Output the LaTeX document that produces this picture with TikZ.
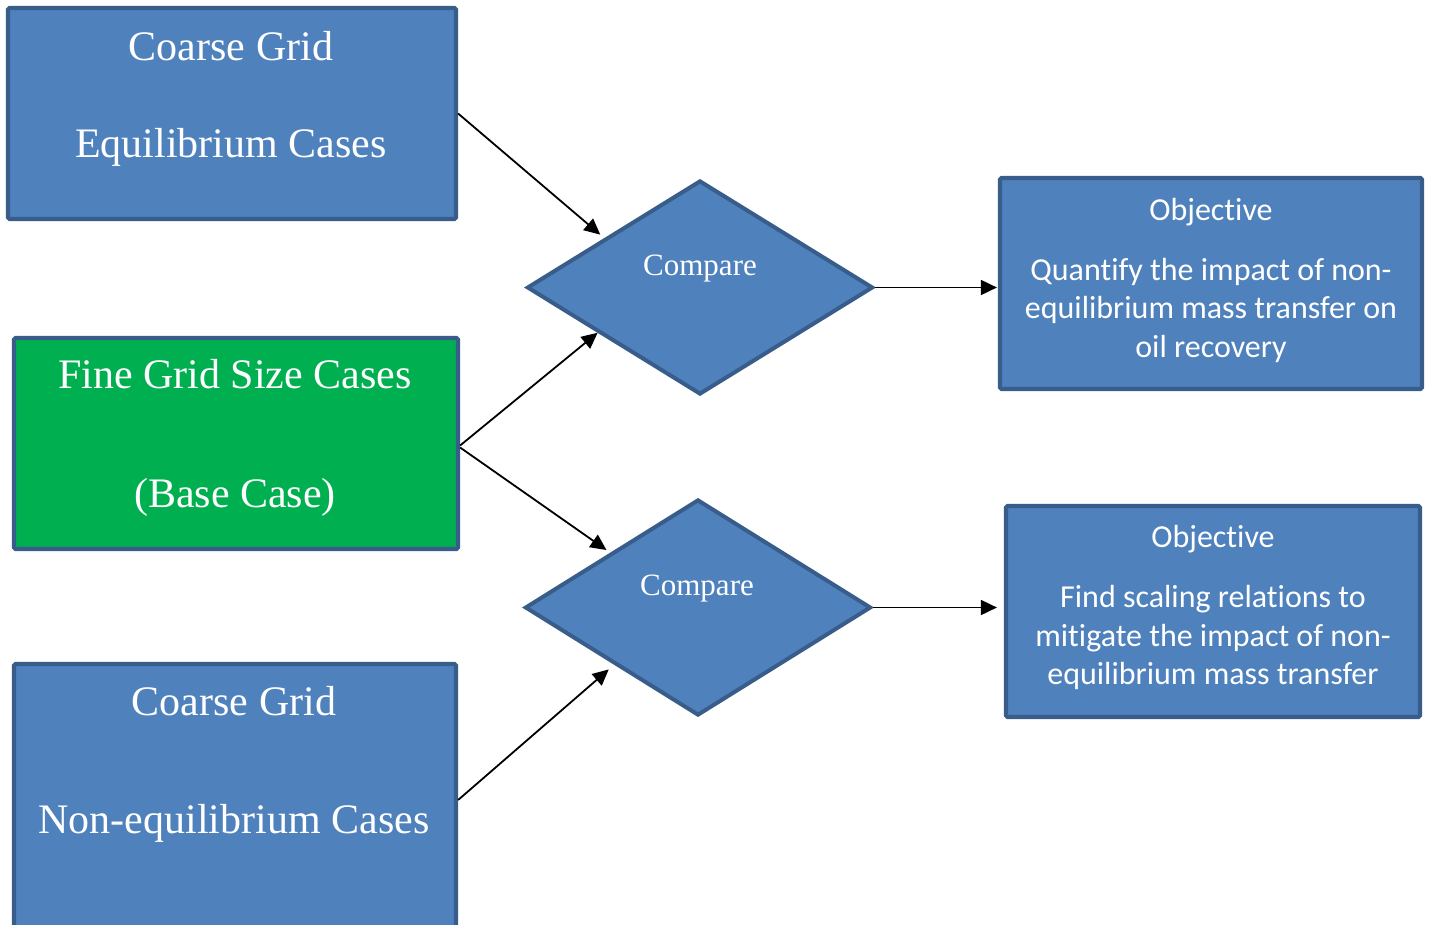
\documentclass[tikz,border=0pt]{standalone}
\usepackage{fontspec}
\setmainfont{Liberation Serif}
\newfontfamily\calib[Ligatures=NoCommon]{Carlito}
\usetikzlibrary{shapes.geometric,arrows.meta,calc}
\definecolor{boxblue}{HTML}{4F81BD}
\definecolor{boxedge}{HTML}{385D8A}
\definecolor{boxgreen}{HTML}{00B050}
\tikzset{
  bluebox/.style={draw=boxedge, fill=boxblue, line width=4.2pt, rounded corners=1.5pt, inner sep=0pt},
  greenbox/.style={bluebox, fill=boxgreen},
  cmpbox/.style={diamond, draw=boxedge, fill=boxblue, line width=4pt, inner sep=0pt, aspect=1.6},
  bigtxt/.style={text=white, anchor=base, font=\fontsize{42}{48}\selectfont},
  cmptxt/.style={text=white, anchor=base, font=\fontsize{31}{36}\selectfont},
  objtxt/.style={text=white, anchor=base, font=\calib\fontsize{32}{39}\selectfont},
  arr/.style={draw=black, line width=1.8pt, -{Triangle[length=16pt,width=15pt]}}
}
\begin{document}
\begin{tikzpicture}[x=1pt,y=-1pt]
\useasboundingbox (0,0) rectangle (1430,924);
% boxes
\node[bluebox, minimum width=448pt, minimum height=211pt] (b1) at (232,113.5) {};
\node[greenbox, minimum width=444pt, minimum height=211pt] (b2) at (236,443.5) {};
\node[bluebox, minimum width=442pt, minimum height=272pt] (b3) at (235,800) {};
\node[cmpbox, minimum width=346pt, minimum height=214pt] (d1) at (700,287.5) {};
\node[cmpbox, minimum width=346pt, minimum height=216pt] (d2) at (698,607.5) {};
\node[bluebox, minimum width=422pt, minimum height=211pt] (o1) at (1211,283.5) {};
\node[bluebox, minimum width=414pt, minimum height=211pt] (o2) at (1213,611.5) {};
% texts
\node[bigtxt] (t1a) at (231,60) {Coarse Grid};
\node[bigtxt] (t1b) at (231,157) {Equilibrium Cases};
\node[bigtxt] (t2a) at (235,388) {Fine Grid Size Cases};
\node[bigtxt] (t2b) at (235,507) {(Base Case)};
\node[bigtxt] (t3a) at (234,715) {Coarse Grid};
\node[bigtxt] (t3b) at (234,833) {Non-equilibrium Cases};
\node[cmptxt] (c1) at (700,275) {Compare};
\node[cmptxt] (c2) at (697,595) {Compare};
\node[objtxt] (o1a) at (1211,220) {Objective};
\node[objtxt] (o1b) at (1211,280) {Quantify the impact of non-};
\node[objtxt] (o1c) at (1211,318) {equilibrium mass transfer on};
\node[objtxt] (o1d) at (1211,357) {oil recovery};
\node[objtxt] (o2a) at (1213,547) {Objective};
\node[objtxt] (o2b) at (1213,607) {Find scaling relations to};
\node[objtxt] (o2c) at (1213,646) {mitigate the impact of non-};
\node[objtxt] (o2d) at (1213,684) {equilibrium mass transfer};
% connector end points
\coordinate (e1) at ($(d1.west)!0.43!(d1.north)+(0,-6)$);
\coordinate (e2) at ($(d1.west)!0.415!(d1.south)$);
\coordinate (e3) at ($(d2.west)!0.477!(d2.north)+(0,-5)$);
\coordinate (e4) at ($(d2.west)!0.49!(d2.south)+(0,8)$);
\coordinate (e5) at ($(d1.east -| o1.west)+(-1,0)$);
\coordinate (e6) at ($(d2.east -| o2.west)+(-7,0)$);
% connectors
\draw[arr] (b1.east) -- (e1);
\draw[arr] ($(b2.east)+(0,2)$) -- (e2);
\draw[arr] ($(b2.east)+(0,4)$) -- (e3);
\draw[arr] (b3.east) -- (e4);
\draw[arr] (d1.east) -- (e5);
\draw[arr] (d2.east) -- (e6);
\end{tikzpicture}
\end{document}
